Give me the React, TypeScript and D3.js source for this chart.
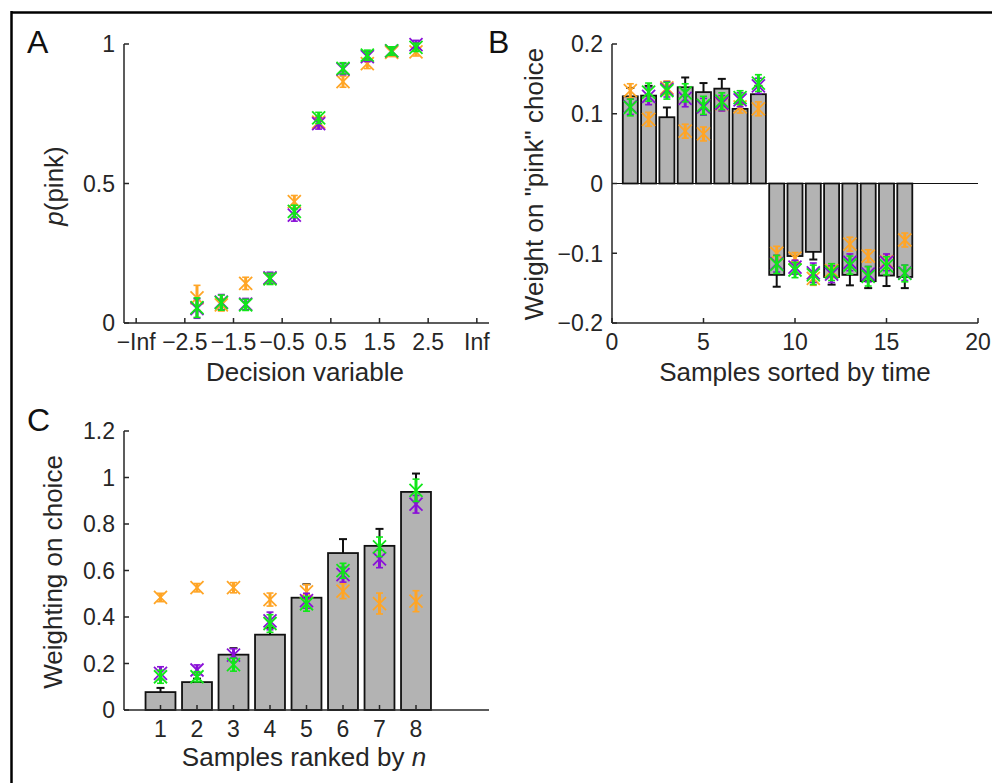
import React from "react";
import * as d3 from "d3";

// ---- panel A: psychometric curve ----
const dvTicks = [-3.5, -2.5, -1.5, -0.5, 0.5, 1.5, 2.5, 3.5];
const dvTickLabels = ["\u2212Inf", "\u22122.5", "\u22121.5", "\u22120.5", "0.5", "1.5", "2.5", "Inf"];
const dvBins = [-2.25, -1.75, -1.25, -0.75, -0.25, 0.25, 0.75, 1.25, 1.75, 2.25];
const pPinkOrange = [0.09, 0.065, 0.142, 0.16, 0.435, 0.72, 0.865, 0.93, 0.97, 0.972];
const pPinkPurple = [0.052, 0.075, 0.068, 0.162, 0.387, 0.715, 0.91, 0.955, 0.975, 0.998];
const pPinkGreen = [0.055, 0.073, 0.065, 0.158, 0.4, 0.735, 0.913, 0.96, 0.975, 0.988];
const pPinkErrOrange = [0.045, 0.022, 0.022, 0.02, 0.022, 0.02, 0.02, 0.018, 0.015, 0.015];
const pPinkErrPurple = [0.035, 0.027, 0.02, 0.02, 0.022, 0.02, 0.02, 0.018, 0.015, 0.015];
const pPinkErrGreen = [0.035, 0.027, 0.02, 0.02, 0.022, 0.02, 0.02, 0.018, 0.015, 0.015];

// ---- panel B: weights by time ----
const timeIdx = d3.range(1, 17);
const timeWeight = [0.125, 0.126, 0.095, 0.138, 0.131, 0.136, 0.107, 0.128,
  -0.131, -0.104, -0.098, -0.134, -0.131, -0.14, -0.132, -0.134];
const timeWeightErr = [0.012, 0.014, 0.014, 0.014, 0.013, 0.014, 0.008, 0.012,
  0.017, 0.01, 0.011, 0.011, 0.015, 0.01, 0.015, 0.016];
const timeOrange = [0.133, 0.092, 0.137, 0.075, 0.071, 0.114, 0.11, 0.107,
  -0.1, -0.107, -0.136, -0.125, -0.087, -0.104, -0.112, -0.081];
const timePurple = [0.11, 0.125, 0.135, 0.122, 0.11, 0.115, 0.12, 0.14,
  -0.115, -0.12, -0.128, -0.13, -0.113, -0.13, -0.113, -0.128];
const timeGreen = [0.109, 0.131, 0.133, 0.13, 0.112, 0.118, 0.123, 0.144,
  -0.116, -0.124, -0.131, -0.127, -0.117, -0.133, -0.118, -0.129];
const timeErrOrange = [0.01, 0.01, 0.01, 0.01, 0.01, 0.01, 0.009, 0.01,
  0.01, 0.008, 0.01, 0.01, 0.01, 0.009, 0.01, 0.01];
const timeErrPurple = [0.011, 0.012, 0.011, 0.012, 0.012, 0.011, 0.01, 0.011,
  0.012, 0.01, 0.014, 0.012, 0.012, 0.011, 0.012, 0.011];
const timeErrGreen = [0.012, 0.013, 0.012, 0.013, 0.013, 0.012, 0.01, 0.012,
  0.013, 0.011, 0.014, 0.012, 0.013, 0.014, 0.013, 0.012];
const timeTicksX = [0, 5, 10, 15, 20];
const timeTicksY = [-0.2, -0.1, 0, 0.1, 0.2];

// ---- panel C: weights by rank ----
const rankIdx = [1, 2, 3, 4, 5, 6, 7, 8];
const rankWeight = [0.077, 0.12, 0.238, 0.324, 0.483, 0.675, 0.706, 0.938];
const rankWeightErr = [0.018, 0.015, 0.028, 0.03, 0.058, 0.06, 0.073, 0.079];
const rankOrange = [0.484, 0.526, 0.526, 0.475, 0.508, 0.511, 0.458, 0.468];
const rankPurple = [0.158, 0.172, 0.236, 0.383, 0.47, 0.582, 0.65, 0.885];
const rankGreen = [0.143, 0.143, 0.195, 0.372, 0.457, 0.599, 0.702, 0.945];
const rankErrOrange = [0.018, 0.018, 0.022, 0.028, 0.032, 0.032, 0.045, 0.045];
const rankErrPurple = [0.028, 0.022, 0.028, 0.038, 0.032, 0.032, 0.038, 0.038];
const rankErrGreen = [0.028, 0.022, 0.028, 0.038, 0.032, 0.032, 0.042, 0.048];
const rankTicksY = [0, 0.2, 0.4, 0.6, 0.8, 1, 1.2];

const ORANGE = "#FFA526";
const PURPLE = "#8A10D8";
const GREEN = "#12E61A";
const AXIS = "#262626";
const FONT = "'Liberation Sans', Arial, Helvetica, sans-serif";

const fmt = (v: number) => (v < 0 ? "\u2212" : "") + String(Math.abs(v));

function Marker({ x, y, lo, hi, color }: { x: number; y: number; lo: number; hi: number; color: string }) {
  const s = 6.5;
  const c = 3.5;
  return (
    <g stroke={color} fill="none">
      <line x1={x} x2={x} y1={lo} y2={hi} strokeWidth={3} />
      <line x1={x - c} x2={x + c} y1={lo} y2={lo} strokeWidth={1.6} />
      <line x1={x - c} x2={x + c} y1={hi} y2={hi} strokeWidth={1.6} />
      <line x1={x - s} x2={x + s} y1={y - s} y2={y + s} strokeWidth={1.8} />
      <line x1={x - s} x2={x + s} y1={y + s} y2={y - s} strokeWidth={1.8} />
    </g>
  );
}

function Series({ xs, ys, errs, color, x, y }: any) {
  return (
    <g>
      {ys.map((v: number, i: number) => (
        <Marker key={i} x={x(xs[i])} y={y(v)} lo={y(v - errs[i])} hi={y(v + errs[i])} color={color} />
      ))}
    </g>
  );
}

function YAxis({ y, x0, ticks }: any) {
  const r = y.range();
  return (
    <g>
      <line x1={x0} x2={x0} y1={r[0]} y2={r[1]} stroke={AXIS} strokeWidth={1.5} />
      {ticks.map((t: number) => (
        <g key={t}>
          <line x1={x0} x2={x0 + 5} y1={y(t)} y2={y(t)} stroke={AXIS} strokeWidth={1.5} />
          <text x={x0 - 9} y={y(t)} dy="0.36em" textAnchor="end" fontSize={23} fill={AXIS} fontFamily={FONT}>
            {fmt(t)}
          </text>
        </g>
      ))}
    </g>
  );
}

function XAxis({ x, y0, ticks, labels }: any) {
  const r = x.range();
  return (
    <g>
      <line x1={r[0]} x2={r[1]} y1={y0} y2={y0} stroke={AXIS} strokeWidth={1.5} />
      {ticks.map((t: number, i: number) => (
        <g key={t}>
          <line x1={x(t)} x2={x(t)} y1={y0} y2={y0 - 5} stroke={AXIS} strokeWidth={1.5} />
          <text x={x(t)} y={y0 + 27} textAnchor="middle" fontSize={23} fill={AXIS} fontFamily={FONT}>
            {labels ? labels[i] : fmt(t)}
          </text>
        </g>
      ))}
    </g>
  );
}

function Bars({ xs, vals, errs, x, y, width }: any) {
  const w = x(width) - x(0);
  return (
    <g>
      {vals.map((v: number, i: number) => {
        const cx = x(xs[i]);
        const top = y(Math.max(v, 0));
        const bot = y(Math.min(v, 0));
        const tip = y(v + Math.sign(v) * errs[i]);
        const edge = y(v);
        return (
          <g key={i}>
            <line x1={cx} x2={cx} y1={edge} y2={tip} stroke="#111" strokeWidth={2} />
            <line x1={cx - 4} x2={cx + 4} y1={tip} y2={tip} stroke="#111" strokeWidth={2} />
            <rect x={cx - w / 2} y={top} width={w} height={bot - top} fill="#b3b3b3" stroke="#111" strokeWidth={1.8} />
          </g>
        );
      })}
    </g>
  );
}

export default function App() {
  // panel A
  const ax = d3.scaleLinear().domain([-3.75, 3.75]).range([124, 489]);
  const ay = d3.scaleLinear().domain([0, 1]).range([323, 44]);
  // panel B
  const bx = d3.scaleLinear().domain([0, 20]).range([612, 978]);
  const by = d3.scaleLinear().domain([-0.2, 0.2]).range([323, 44]);
  // panel C
  const cx = d3.scaleLinear().domain([0, 10]).range([124, 489]);
  const cy = d3.scaleLinear().domain([0, 1.2]).range([710, 431]);

  const label = { fontFamily: FONT, fill: AXIS, fontSize: 26 };

  return (
    <svg width={992} height={783} style={{ position: "absolute", left: 0, top: 0, background: "#fff" }}>
      <rect x={0} y={0} width={992} height={783} fill="#fff" />
      <line x1={11} x2={992} y1={12.5} y2={12.5} stroke="#000" strokeWidth={2.5} />
      <line x1={11.5} x2={11.5} y1={11} y2={783} stroke="#000" strokeWidth={2.5} />

      {/* Panel A */}
      <text x={27} y={53} fontSize={32} fontFamily={FONT} fill="#111">A</text>
      <YAxis y={ay} x0={124} ticks={[0, 0.5, 1]} />
      <XAxis x={ax} y0={323} ticks={dvTicks} labels={dvTickLabels} />
      <Series xs={dvBins} ys={pPinkOrange} errs={pPinkErrOrange} color={ORANGE} x={ax} y={ay} />
      <Series xs={dvBins} ys={pPinkPurple} errs={pPinkErrPurple} color={PURPLE} x={ax} y={ay} />
      <Series xs={dvBins} ys={pPinkGreen} errs={pPinkErrGreen} color={GREEN} x={ax} y={ay} />
      <text x={305} y={381} textAnchor="middle" {...label}>Decision variable</text>
      <text transform="translate(63,186) rotate(-90)" textAnchor="middle" {...label}>
        <tspan fontStyle="italic">p</tspan>(pink)
      </text>

      {/* Panel B */}
      <text x={488} y={53} fontSize={32} fontFamily={FONT} fill="#111">B</text>
      <Bars xs={timeIdx} vals={timeWeight} errs={timeWeightErr} x={bx} y={by} width={0.82} />
      <line x1={612} x2={978} y1={by(0)} y2={by(0)} stroke="#111" strokeWidth={1} />
      <Series xs={timeIdx} ys={timeOrange} errs={timeErrOrange} color={ORANGE} x={bx} y={by} />
      <Series xs={timeIdx} ys={timePurple} errs={timeErrPurple} color={PURPLE} x={bx} y={by} />
      <Series xs={timeIdx} ys={timeGreen} errs={timeErrGreen} color={GREEN} x={bx} y={by} />
      <YAxis y={by} x0={612} ticks={timeTicksY} />
      <XAxis x={bx} y0={323} ticks={timeTicksX} />
      <text x={795} y={381} textAnchor="middle" {...label}>Samples sorted by time</text>
      <text transform="translate(543,184) rotate(-90)" textAnchor="middle" {...label}>
        Weight on "pink" choice
      </text>

      {/* Panel C */}
      <text x={27} y={431} fontSize={32} fontFamily={FONT} fill="#111">C</text>
      <Bars xs={rankIdx} vals={rankWeight} errs={rankWeightErr} x={cx} y={cy} width={0.82} />
      <Series xs={rankIdx} ys={rankOrange} errs={rankErrOrange} color={ORANGE} x={cx} y={cy} />
      <Series xs={rankIdx} ys={rankPurple} errs={rankErrPurple} color={PURPLE} x={cx} y={cy} />
      <Series xs={rankIdx} ys={rankGreen} errs={rankErrGreen} color={GREEN} x={cx} y={cy} />
      <YAxis y={cy} x0={124} ticks={rankTicksY} />
      <XAxis x={cx} y0={710} ticks={rankIdx} />
      <text x={304} y={766} textAnchor="middle" {...label}>
        Samples ranked by <tspan fontStyle="italic">n</tspan>
      </text>
      <text transform="translate(62,572) rotate(-90)" textAnchor="middle" {...label}>Weighting on choice</text>
    </svg>
  );
}
